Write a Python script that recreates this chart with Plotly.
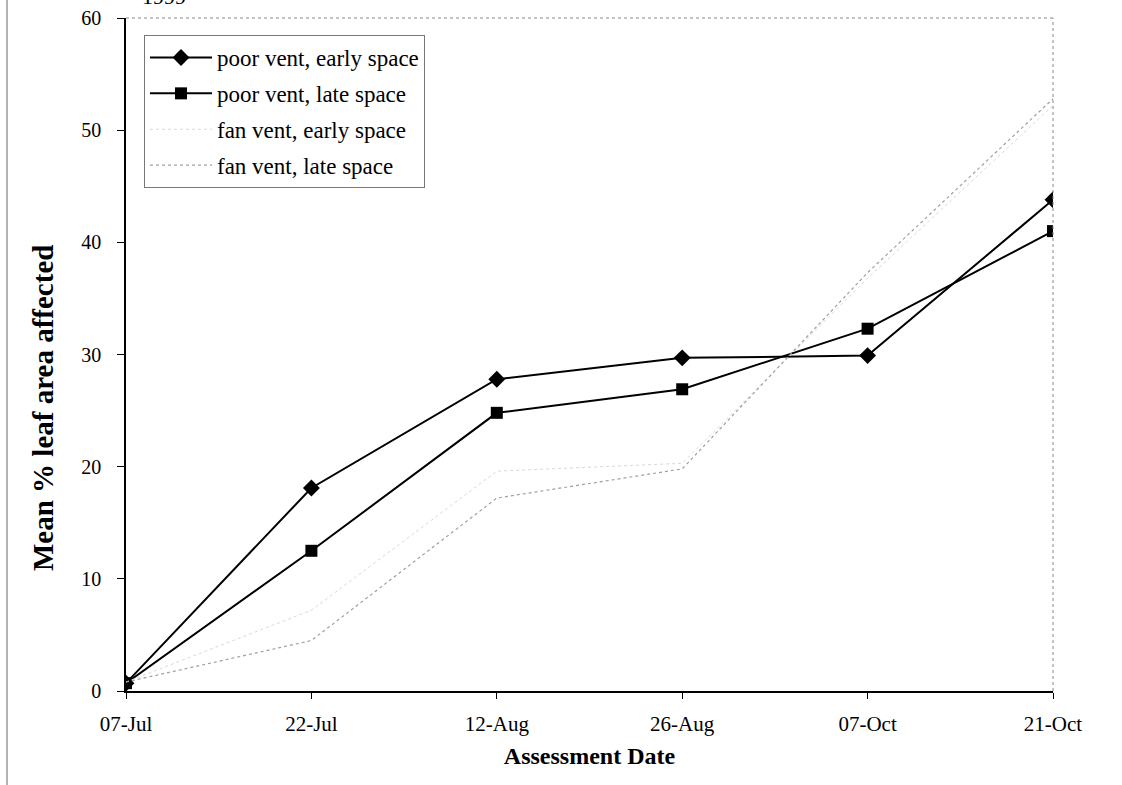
import plotly.graph_objects as go

dates = ["07-Jul", "22-Jul", "12-Aug", "26-Aug", "07-Oct", "21-Oct"]
poor_early = [0.7, 18.1, 27.8, 29.7, 29.9, 43.8]
poor_late = [0.7, 12.5, 24.8, 26.9, 32.3, 41.0]
fan_early = [0.8, 7.2, 19.6, 20.3, 36.8, 52.2]
fan_late = [0.8, 4.5, 17.2, 19.8, 37.3, 52.8]

FONT = "Liberation Serif"

fig = go.Figure()
fig.add_trace(go.Scatter(
    x=dates, y=poor_early, name="poor vent, early space", mode="lines+markers",
    line=dict(color="black", width=2), legendgroup="a",
    marker=dict(symbol="diamond", size=13, color="black")))
fig.add_trace(go.Scatter(
    x=dates, y=poor_late, name="poor vent, late space", mode="lines+markers",
    line=dict(color="black", width=2), legendgroup="b",
    marker=dict(symbol="square", size=12, color="black")))
fig.add_trace(go.Scatter(
    x=dates, y=fan_early, name="fan vent, early space", mode="lines",
    line=dict(color="#d8d8d8", width=1, dash="dot"), legendgroup="c"))
fig.add_trace(go.Scatter(
    x=dates, y=fan_late, name="fan vent, late space", mode="lines",
    line=dict(color="#a0a0a0", width=1.2, dash="dot"), legendgroup="d"))

W, H = 1122, 785
L, R, T, B = 126, 69, 18, 94
pw, ph = W - L - R, H - T - B

fig.update_layout(
    width=W, height=H,
    margin=dict(l=L, r=R, t=T, b=B, pad=0, autoexpand=False),
    paper_bgcolor="white", plot_bgcolor="white",
    font=dict(family=FONT, size=19, color="black"),
    showlegend=True,
    legend=dict(
        x=(144 - L) / pw, y=(H - B - 35) / ph, xanchor="left", yanchor="top",
        bgcolor="white", bordercolor="#777777", borderwidth=1,
        font=dict(family=FONT, size=23, color="black"),
        traceorder="grouped", tracegroupgap=3, itemwidth=62,
    ),
    xaxis=dict(
        type="category", range=[0, len(dates) - 1], automargin=False,
        showline=True, linecolor="black", linewidth=1.5,
        ticks="outside", ticklen=6, tickcolor="black", tickwidth=1,
        showgrid=False, zeroline=False,
        tickfont=dict(family=FONT, size=21, color="black"),
        ticklabelstandoff=7,
        title=dict(text="<b>Assessment Date</b>", standoff=12,
                   font=dict(family=FONT, size=24, color="black")),
    ),
    yaxis=dict(
        range=[0, 60], dtick=10, automargin=False,
        showline=True, linecolor="black", linewidth=1.5,
        ticks="outside", ticklen=7, tickcolor="black", tickwidth=1,
        showgrid=False, zeroline=False,
        tickfont=dict(family=FONT, size=20, color="black"),
        ticklabelstandoff=12,
    ),
    shapes=[
        dict(type="line", xref="paper", yref="paper", x0=0, x1=1, y0=1, y1=1,
             line=dict(color="#888888", width=1, dash="dot")),
        dict(type="line", xref="paper", yref="paper", x0=1, x1=1, y0=0, y1=1,
             line=dict(color="#888888", width=1, dash="dot")),
        dict(type="line", xref="paper", yref="paper",
             x0=(7 - L) / pw, x1=(7 - L) / pw, y0=-B / ph, y1=1 + T / ph,
             line=dict(color="#666666", width=1)),
    ],
    annotations=[
        dict(text="<b>Mean % leaf area affected</b>", textangle=-90,
             xref="paper", yref="paper", x=(43 - L) / pw, y=(H - B - 408) / ph,
             xanchor="center", yanchor="middle", showarrow=False,
             font=dict(family=FONT, size=29, color="black")),
        dict(text="1999", xref="paper", yref="paper", x=(140 - L) / pw, y=1,
             xanchor="left", yanchor="bottom", yshift=7, showarrow=False,
             font=dict(family=FONT, size=22, color="black")),
    ],
)

fig.write_html("out.html")
